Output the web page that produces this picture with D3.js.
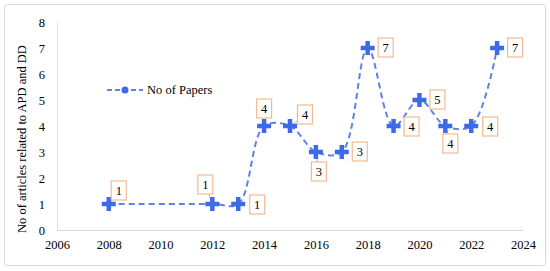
<!DOCTYPE html>
<html>
<head>
<meta charset="utf-8">
<script src="https://cdn.jsdelivr.net/npm/d3@7"></script>
<style>
  body { margin: 0; background: #fff; }
</style>
</head>
<body>
<div id="chart"></div>
<script>
// data
var years = [2008, 2012, 2013, 2014, 2015, 2016, 2017, 2018, 2019, 2020, 2021, 2022, 2023]
var papers = [1, 1, 1, 4, 4, 3, 3, 7, 4, 5, 4, 4, 7]
var xTicks = [2006, 2008, 2010, 2012, 2014, 2016, 2018, 2020, 2022, 2024]
var yTicks = [0, 1, 2, 3, 4, 5, 6, 7, 8]
var seriesName = "No of Papers"
var yTitle = "No of articles related to APD and DD"

// label box offsets from the point (layout only)
var labelOffset = [[10, -13], [-7, -19], [19, 1], [0, -17], [15, -11], [3, 20], [18, 0],
                   [18, 0], [18, 1], [18, 0], [5, 18], [19, 1], [18, 0]]

var W = 550, H = 271
var pad = {left: 57, right: 27, top: 22, bottom: 41}
var blue = "#3d6ae8", lineBlue = "#5f82e6", boxStroke = "#f4b992"
var serif = "'Liberation Serif', serif"
var fs = "12.5px"

var svg = d3.select("#chart").append("svg").attr("width", W).attr("height", H)

svg.append("rect").attr("x", 4.5).attr("y", 4.5).attr("width", 541).attr("height", 261)
    .attr("rx", 3).attr("fill", "#fff").attr("stroke", "#d9d9d9")

var x = d3.scaleLinear().domain([2006, 2024]).range([pad.left, W - pad.right])
var y = d3.scaleLinear().domain([0, 8]).range([H - pad.bottom, pad.top])

var g = svg.append("g")

// axes
var axisX = g.append("g").attr("transform", "translate(0," + y(0) + ")")
    .call(d3.axisBottom(x).tickValues(xTicks).tickFormat(d3.format("d")).tickSize(0).tickPadding(10))
axisX.select(".domain").attr("stroke", "#d9d9d9").attr("stroke-width", 1.2)

var axisY = g.append("g").attr("transform", "translate(" + x(2006) + ",0)")
    .call(d3.axisLeft(y).tickValues(yTicks).tickSize(0).tickPadding(12))
axisY.select(".domain").attr("stroke", "#d9d9d9").attr("stroke-width", 0.8)

svg.append("text")
    .attr("transform", "translate(26," + 139 + ") rotate(-90)")
    .attr("text-anchor", "middle")
    .text(yTitle)

var pts = years.map((d, i) => [x(d), y(papers[i])])

// line
var line = d3.line().curve(d3.curveCatmullRom.alpha(0.5))
g.append("path").attr("d", line(pts))
    .attr("fill", "none").attr("stroke", lineBlue).attr("stroke-width", 2)
    .attr("stroke-dasharray", "6,4")

// leader lines for offset labels
pts.forEach((p, i) => {
  var o = labelOffset[i]
  if (Math.abs(o[0]) > 12 && Math.abs(o[1]) < 5) return
  if (o[0] === 0) return
  g.append("line").attr("x1", p[0]).attr("y1", p[1])
      .attr("x2", p[0] + o[0] * 0.55).attr("y2", p[1] + o[1] * 0.55)
      .attr("stroke", "#a6a6a6").attr("stroke-width", 0.8)
})

// markers
g.selectAll(".mark").data(pts).join("path").attr("class", "mark")
    .attr("d", d => "M" + (d[0] - 7) + "," + d[1] + "H" + (d[0] + 7) + "M" + d[0] + "," + (d[1] - 7) + "V" + (d[1] + 7))
    .attr("stroke", blue).attr("stroke-width", 4.5).attr("fill", "none")

// data labels
var lab = g.selectAll(".lab").data(pts).join("g").attr("class", "lab")
    .attr("transform", (d, i) => "translate(" + (d[0] + labelOffset[i][0]) + "," + (d[1] + labelOffset[i][1]) + ")")
lab.append("rect").attr("x", -7.5).attr("y", -10).attr("width", 15).attr("height", 19)
    .attr("fill", "#fff").attr("stroke", boxStroke).attr("stroke-width", 1.2)
lab.append("text").attr("text-anchor", "middle").attr("dy", "0.32em")
    .text((d, i) => papers[i])

// legend
var lg = svg.append("g").attr("transform", "translate(107,90)")
lg.append("line").attr("x1", 0).attr("x2", 36).attr("stroke", lineBlue)
    .attr("stroke-width", 2).attr("stroke-dasharray", "5,3")
lg.append("circle").attr("cx", 18).attr("r", 3.5).attr("fill", blue)
lg.append("text").attr("x", 40).attr("dy", "0.32em").text(seriesName)

// fonts on every text
svg.selectAll("text").style("font-family", serif).style("font-size", fs).style("fill", "#000")
</script>
</body>
</html>
